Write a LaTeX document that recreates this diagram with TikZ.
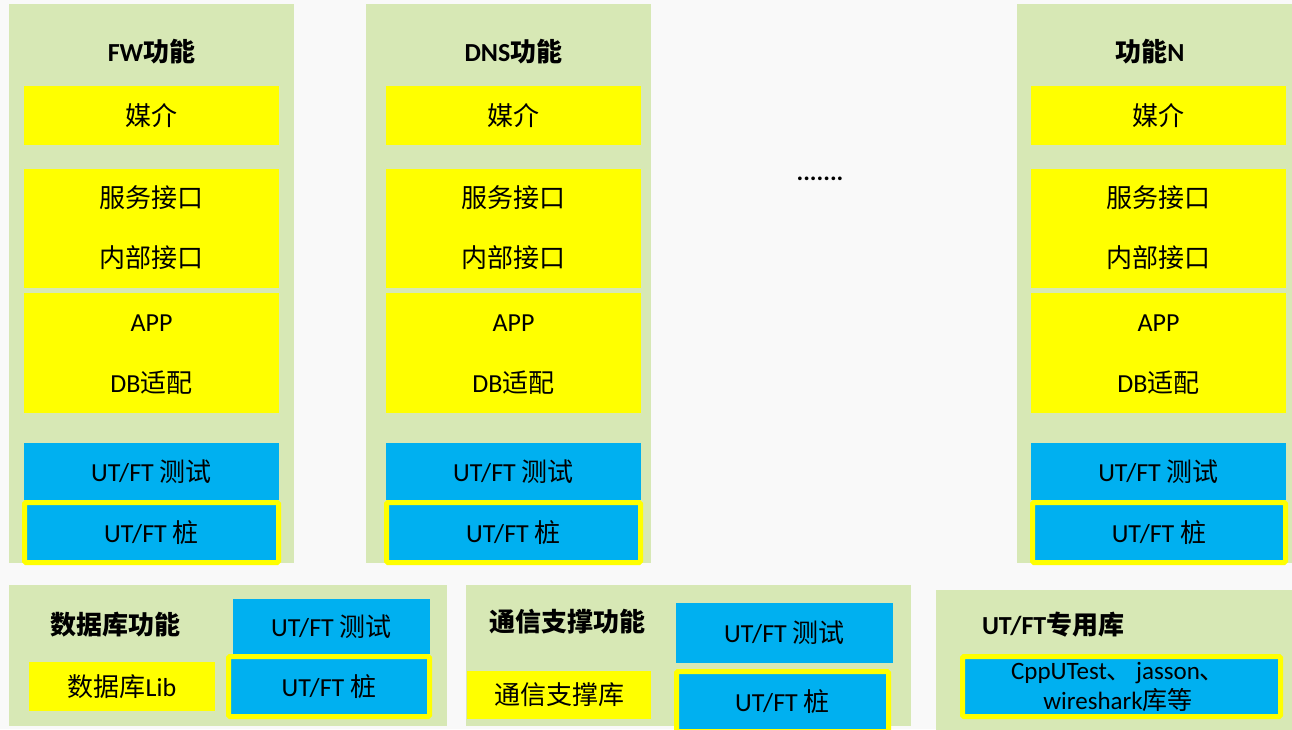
\documentclass[tikz,border=0pt]{standalone}
\usepackage{fontspec}
\setmainfont{Carlito}
\newfontfamily\cjk{Noto Sans CJK SC}
\definecolor{bgc}{HTML}{F9F9F9}
\definecolor{pgreen}{HTML}{D7E8B5}
\definecolor{pyellow}{HTML}{FFFF00}
\definecolor{pblue}{HTML}{00B0F0}
\newcommand\R[7]{\node[#1, minimum width={(#5)-(#3)}, minimum height={(#6)-(#4)}] (#2) at ({((#3)+(#5))/2},{((#4)+(#6))/2}) {#7};}
\begin{document}
\begin{tikzpicture}[x=1pt,y=-1pt,
  every node/.style={inner sep=0pt,outer sep=0pt,text=black},
  txt/.style={font=\fontsize{26}{31}\selectfont},
  ttl/.style={font=\fontsize{26}{31}\selectfont\bfseries},
  panel/.style={fill=pgreen},
  ybox/.style={fill=pyellow,font=\fontsize{26}{31}\selectfont},
  bbox/.style={fill=pblue,font=\fontsize{26}{31}\selectfont},
  framebox/.style={fill=pblue,draw=pyellow,line width=5pt,rounded corners=1.5pt,font=\fontsize{26}{31}\selectfont}]
\useasboundingbox (0,0) rectangle (1292,729);
\fill[bgc] (0,0) rectangle (1292,729);
% top columns
\R{panel}{g1}{9}{4}{294}{563}{}
\node[ttl] (t1) at (151.5,52) {FW{\cjk\bfseries 功能}};
\R{ybox}{m1}{24}{86}{279}{145}{\cjk 媒介}
\R{ybox}{s1}{24}{169}{279}{288}{}
\node[txt] (sa1) at (151.5,198) {\cjk 服务接口};
\node[txt] (sb1) at (151.5,258) {\cjk 内部接口};
\R{ybox}{a1}{24}{293}{279}{413}{}
\node[txt] (aa1) at (151.5,323) {APP};
\node[txt] (ab1) at (151.5,383) {DB{\cjk 适配}};
\R{bbox}{u1}{24}{443}{279}{500}{UT/FT {\cjk 测试}}
\R{framebox}{z1}{24.5}{502.5}{278.5}{562.5}{UT/FT {\cjk 桩}}
%
\R{panel}{g2}{366}{4}{651}{563}{}
\node[ttl] (t2) at (513.5,52) {DNS{\cjk\bfseries 功能}};
\R{ybox}{m2}{386}{86}{641}{145}{\cjk 媒介}
\R{ybox}{s2}{386}{169}{641}{288}{}
\node[txt] (sa2) at (513.5,198) {\cjk 服务接口};
\node[txt] (sb2) at (513.5,258) {\cjk 内部接口};
\R{ybox}{a2}{386}{293}{641}{413}{}
\node[txt] (aa2) at (513.5,323) {APP};
\node[txt] (ab2) at (513.5,383) {DB{\cjk 适配}};
\R{bbox}{u2}{386}{443}{641}{500}{UT/FT {\cjk 测试}}
\R{framebox}{z2}{386.5}{502.5}{640.5}{562.5}{UT/FT {\cjk 桩}}
%
\R{panel}{g3}{1017}{4}{1295}{563}{}
\node[ttl] (t3) at (1150,52) {{\cjk\bfseries 功能}N};
\R{ybox}{m3}{1031}{86}{1286}{145}{\cjk 媒介}
\R{ybox}{s3}{1031}{169}{1286}{288}{}
\node[txt] (sa3) at (1158.5,198) {\cjk 服务接口};
\node[txt] (sb3) at (1158.5,258) {\cjk 内部接口};
\R{ybox}{a3}{1031}{293}{1286}{413}{}
\node[txt] (aa3) at (1158.5,323) {APP};
\node[txt] (ab3) at (1158.5,383) {DB{\cjk 适配}};
\R{bbox}{u3}{1031}{443}{1286}{500}{UT/FT {\cjk 测试}}
\R{framebox}{z3}{1032.5}{502.5}{1285.5}{562.5}{UT/FT {\cjk 桩}}
% dots
\node[ttl,font=\fontsize{25}{30}\selectfont\bfseries] (dots) at (820,179) {.......};
% bottom panel 1
\R{panel}{b1}{9}{585}{447}{726}{}
\node[ttl] (bt1) at (115,625) {\cjk\bfseries 数据库功能};
\R{ybox}{bl1}{29}{662}{215}{711}{{\cjk 数据库}Lib}
\R{bbox}{bu1}{233}{599}{430}{654}{UT/FT {\cjk 测试}}
\R{framebox}{bz1}{228.5}{656.5}{429.5}{716.5}{UT/FT {\cjk 桩}}
% bottom panel 2
\R{panel}{b2}{466}{585}{911}{726}{}
\node[ttl] (bt2) at (567,622) {\cjk\bfseries 通信支撑功能};
\R{ybox}{bl2}{467}{671}{651}{719}{\cjk 通信支撑库}
\R{bbox}{bu2}{676}{603}{893}{663}{UT/FT {\cjk 测试}}
\R{framebox}{bz2}{676.5}{671.5}{888.5}{731.5}{UT/FT {\cjk 桩}}
% bottom panel 3
\R{panel}{b3}{936}{590}{1295}{732}{}
\node[ttl,anchor=west] (bt3) at (982,625) {UT/FT{\cjk\bfseries 专用库}};
\R{framebox}{bz3}{962.5}{656.5}{1280.5}{716.5}{}
\node[txt,align=center,font=\fontsize{25}{30}\selectfont] (lib) at (1118,687) {CppUTest{\cjk 、}\,jasson{\cjk 、}\\wireshark{\cjk 库等}};
\end{tikzpicture}
\end{document}
